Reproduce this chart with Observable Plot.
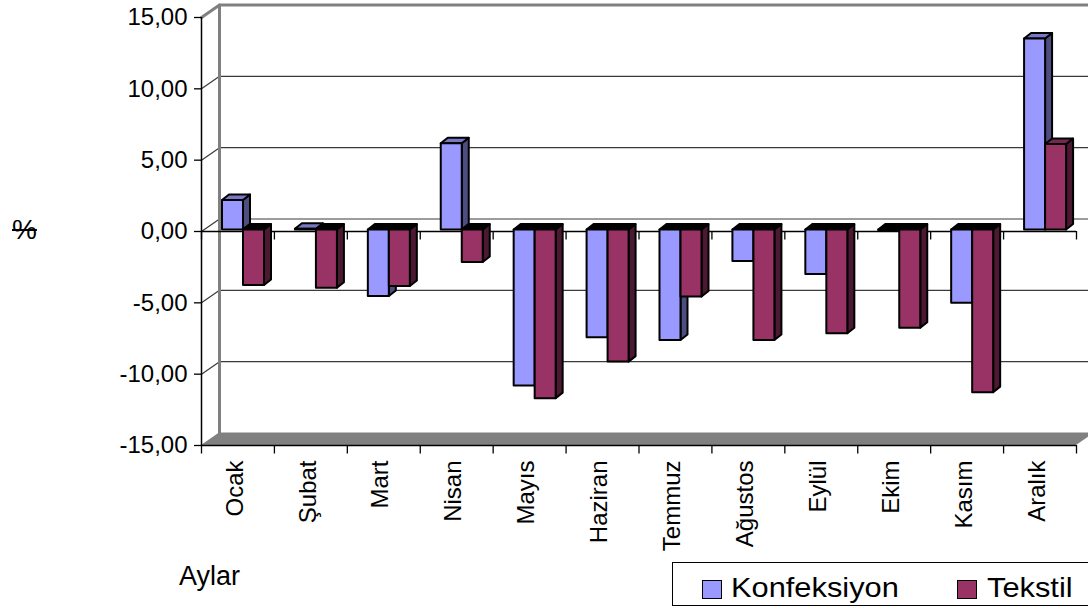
<!DOCTYPE html>
<html><head><meta charset="utf-8">
<script src="https://cdn.jsdelivr.net/npm/d3@7"></script>
<script src="https://cdn.jsdelivr.net/npm/@observablehq/plot@0.6"></script>
<style>
body{margin:0;background:#fff;font-family:Arial,"Liberation Sans",sans-serif;color:#000;}
#wrap{position:relative;width:1088px;height:610px;overflow:hidden;background:#fff;}
#wrap svg{position:absolute;left:0;top:0;}
.ov{position:absolute;line-height:1;white-space:nowrap;}
#pct{left:12px;top:216px;font-size:28px;text-decoration:line-through;}
#aylar{left:179px;top:563px;font-size:27px;}
#legend{position:absolute;left:672px;top:562px;width:440px;height:44px;border:1px solid #000;background:#fff;box-sizing:border-box;}
.sw{position:absolute;width:20px;height:19px;border:1.5px solid #000;box-sizing:border-box;}
.lt{position:absolute;font-size:28px;line-height:1;transform:scaleX(1.1);transform-origin:left top;}
</style></head><body>
<div id="wrap"></div>
<script>
// ---- data ----
const months = ["Ocak","Şubat","Mart","Nisan","Mayıs","Haziran","Temmuz","Ağustos","Eylül","Ekim","Kasım","Aralık"];
const konfeksiyon = [2.07, 0.05, -4.66, 6.04, -10.94, -7.55, -7.74, -2.20, -3.12, -0.05, -5.13, 13.39];
const tekstil     = [-3.89, -4.08, -3.96, -2.28, -11.82, -9.26, -4.70, -7.74, -7.27, -6.88, -11.40, 5.99];
const seriesNames = ["Konfeksiyon", "Tekstil"];
const yTicks = [-15, -10, -5, 0, 5, 10, 15];

// ---- styles ----
const palette = {
  Konfeksiyon: {front: "#9999FF", side: "#4D4D80", top: "#7878C4"},
  Tekstil:     {front: "#993366", side: "#4C1932", top: "#74284F"}
};
const W = 1088, H = 610;
const mL = 201, mR = 12, mT = 17, mB = 165;
const pxX = (W - mL - mR) / 12, pxY = (H - mT - mB) / 30;
const BX = 18 / pxX, BY = 12.5 / pxY;       // back wall depth
const DX = 7 / pxX, DY = 5.5 / pxY;         // bar depth
const BAR_OFF = 21 / pxX, BAR_W = 21 / pxX; // bar placement in category
const LIFT = 1.5 / pxY;
const TICK = 8.5 / pxY;

// ---- derived tables ----
const bars = [];
[konfeksiyon, tekstil].forEach((vals, s) => {
  vals.forEach((v, i) => {
    const x0 = i + BAR_OFF + s * BAR_W, x1 = x0 + BAR_W;
    const b = LIFT, t = v + LIFT;
    bars.push({series: seriesNames[s], s, i, v, x0, x1, lo: Math.min(b, t), hi: Math.max(b, t), id: s + "-" + i});
  });
});
const sideFaces = bars.flatMap(d => [
  {id: d.id, s: d.s, x: d.x1, y1: d.lo, y2: d.hi, fill: palette[d.series].side},
  {id: d.id, s: d.s, x: d.x1 + DX, y1: d.lo + DY, y2: d.hi + DY, fill: palette[d.series].side}
]);
const topFaces = bars.flatMap(d => {
  const f = d.v >= 0 ? palette[d.series].top : "#000";
  return [
    {id: d.id, s: d.s, y: d.hi, x1: d.x0, x2: d.x1, fill: f},
    {id: d.id, s: d.s, y: d.hi + DY, x1: d.x0 + DX, x2: d.x1 + DX, fill: f}
  ];
});
const frontFaces = bars.map(d => ({...d, fill: palette[d.series].front}));

const floor = [{y: -15, x1: 0, x2: 12}, {y: -15 + BY, x1: BX, x2: 12 + BX}];
const gridLines = yTicks.filter(t => t > -15 && t < 15).flatMap(t => [
  {g: t, x: 0, y: t}, {g: t, x: BX, y: t + BY}, {g: t, x: 12 + BX + 1, y: t + BY}
]);
const topEdge = [{x: 0, y: 15}, {x: BX, y: 15 + BY}, {x: 12 + BX + 1, y: 15 + BY}];
const backLeft = [{x: BX, y: -15 + BY}, {x: BX, y: 15 + BY}];
const bounds = d3.range(13);

const marks = [
  Plot.areaX(floor, {y: "y", x1: "x1", x2: "x2", fill: "#808080"}),
  Plot.line(gridLines, {x: "x", y: "y", z: "g", stroke: "#3a3a3a", strokeWidth: 1.2}),
  Plot.line(backLeft, {x: "x", y: "y", stroke: "#808080", strokeWidth: 3}),
  Plot.line(topEdge, {x: "x", y: "y", stroke: "#808080", strokeWidth: 3}),
  Plot.ruleY([0], {x1: 0, x2: 12, stroke: "#000", strokeWidth: 1.3}),
  Plot.ruleX(bounds, {x: d => d, y1: 0, y2: -TICK, stroke: "#000", strokeWidth: 1.3}),
  Plot.ruleY([-15], {x1: 0, x2: 12, stroke: "#000", strokeWidth: 1.5}),
  Plot.ruleX(bounds, {x: d => d, y1: -15, y2: -15 - TICK, stroke: "#000", strokeWidth: 1.3}),
  Plot.ruleX([0], {y1: -15, y2: 15, stroke: "#000", strokeWidth: 1.5}),
  Plot.axisY(yTicks, {anchor: "left", tickSize: 7, tickPadding: 7, fontSize: 24, label: null,
    tickFormat: d => d.toFixed(2).replace(".", ","), strokeWidth: 1.3})
];
for (const s of [0, 1]) {
  marks.push(
    Plot.areaY(sideFaces.filter(d => d.s === s), {x: "x", y1: "y1", y2: "y2", z: "id", fill: "fill", stroke: "#000", strokeWidth: 2, strokeLinejoin: "round"}),
    Plot.areaX(topFaces.filter(d => d.s === s), {y: "y", x1: "x1", x2: "x2", z: "id", fill: "fill", stroke: "#000", strokeWidth: 2, strokeLinejoin: "round"}),
    Plot.rect(frontFaces.filter(d => d.s === s), {x1: "x0", x2: "x1", y1: "lo", y2: "hi", fill: "fill", stroke: "#000", strokeWidth: 2, strokeLinejoin: "round"})
  );
}
marks.push(Plot.text(months, {x: (d, i) => i + 0.5, y: -15, dy: 15, dx: -3, rotate: -90, textAnchor: "end", fontSize: 24, fill: "#000"}));

const chart = Plot.plot({
  width: W, height: H,
  marginLeft: mL, marginRight: mR, marginTop: mT, marginBottom: mB,
  x: {type: "linear", domain: [0, 12], axis: null},
  y: {type: "linear", domain: [-15, 15], axis: null},
  color: {type: "identity"},
  style: {fontFamily: "Arial, 'Liberation Sans', sans-serif", fontSize: "24px", background: "#fff", color: "#000", overflow: "hidden"},
  marks
});
const wrap = document.getElementById("wrap");
wrap.appendChild(chart);

// overlays: axis titles and legend
const pct = document.createElement("div"); pct.className = "ov"; pct.id = "pct"; pct.textContent = "%"; wrap.appendChild(pct);
const ay = document.createElement("div"); ay.className = "ov"; ay.id = "aylar"; ay.textContent = "Aylar"; wrap.appendChild(ay);
const lg = document.createElement("div"); lg.id = "legend"; wrap.appendChild(lg);
const legendPos = [{sw: 29, tx: 58}, {sw: 284, tx: 314}];
seriesNames.forEach((name, k) => {
  const sw = document.createElement("div"); sw.className = "sw";
  sw.style.left = legendPos[k].sw + "px"; sw.style.top = "17px"; sw.style.background = palette[name].front;
  lg.appendChild(sw);
  const t = document.createElement("div"); t.className = "lt"; t.textContent = name;
  t.style.left = legendPos[k].tx + "px"; t.style.top = "11px";
  lg.appendChild(t);
});
</script>
</body></html>
